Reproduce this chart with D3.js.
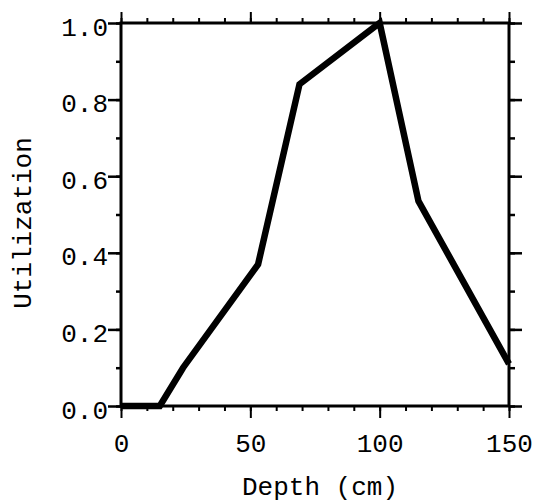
<!DOCTYPE html>
<html><head><meta charset="utf-8">
<script src="https://cdn.jsdelivr.net/npm/d3@7"></script>
<style>body{margin:0;background:#fff}svg{display:block}text{font-family:"Liberation Mono","Courier New",monospace;fill:#000}</style>
</head><body>
<svg id="c" width="535" height="503"></svg>
<script>
const depth = [0, 15, 24, 53, 69, 100, 115, 150];
const utilization = [0, 0, 0.1, 0.37, 0.84, 1.0, 0.535, 0.11];
const xTicks = [0, 50, 100, 150];
const yTicks = [0, 0.2, 0.4, 0.6, 0.8, 1.0];
const xMinor = d3.range(0, 151, 10);
const yMinor = d3.range(0, 1.001, 0.1);

const svg = d3.select("#c");
const L = 121, R = 509, T = 23, B = 406;
const x = d3.scaleLinear().domain([0, 150]).range([L, R]);
const y = d3.scaleLinear().domain([0, 1]).range([B, T]);

function styleAxis(g, w) {
  g.select(".domain").remove();
  g.selectAll("line").attr("stroke", "#000").attr("stroke-width", w);
}
// minor ticks
svg.append("g").attr("transform", `translate(0,${B})`).call(d3.axisBottom(x).tickValues(xMinor).tickSize(5).tickFormat("")).call(g => styleAxis(g, 2));
svg.append("g").attr("transform", `translate(0,${T})`).call(d3.axisTop(x).tickValues(xMinor).tickSize(5).tickFormat("")).call(g => styleAxis(g, 2));
svg.append("g").attr("transform", `translate(${L},0)`).call(d3.axisLeft(y).tickValues(yMinor).tickSize(5).tickFormat("")).call(g => styleAxis(g, 2.5));
svg.append("g").attr("transform", `translate(${R},0)`).call(d3.axisRight(y).tickValues(yMinor).tickSize(6).tickFormat("")).call(g => styleAxis(g, 2.5));
// major ticks
const fx = d3.format(".0f"), fy = d3.format(".1f");
const gb = svg.append("g").attr("transform", `translate(0,${B})`).call(d3.axisBottom(x).tickValues(xTicks).tickSize(12).tickPadding(16).tickFormat(fx));
styleAxis(gb, 2);
gb.selectAll("text").attr("font-size", 26).attr("fill", "#000").attr("font-family", "Liberation Mono");
const gt = svg.append("g").attr("transform", `translate(0,${T})`).call(d3.axisTop(x).tickValues(xTicks).tickSize(11).tickFormat(""));
styleAxis(gt, 2);
const gl = svg.append("g").attr("transform", `translate(${L},0)`).call(d3.axisLeft(y).tickValues(yTicks).tickSize(13).tickPadding(0).tickFormat(fy));
styleAxis(gl, 2.5);
gl.selectAll("text").attr("font-size", 26).attr("fill", "#000").attr("font-family", "Liberation Mono").attr("dy", null).attr("y", 12);
const gr = svg.append("g").attr("transform", `translate(${R},0)`).call(d3.axisRight(y).tickValues(yTicks).tickSize(13).tickFormat(""));
styleAxis(gr, 2.5);

// frame
svg.append("rect").attr("x", L).attr("y", T).attr("width", R - L).attr("height", B - T)
  .attr("fill", "none").attr("stroke", "#000").attr("stroke-width", 3);

// data line
const pts = depth.map((d, i) => [d, utilization[i]]);
svg.append("path").datum(pts)
  .attr("d", d3.line().x(d => x(d[0])).y(d => y(d[1])))
  .attr("fill", "none").attr("stroke", "#000").attr("stroke-width", 6.5).attr("stroke-linejoin", "miter");

// labels
svg.append("text").attr("x", 320).attr("y", 495).attr("text-anchor", "middle").attr("font-size", 26).text("Depth (cm)");
svg.append("text").attr("transform", "translate(31,223) rotate(-90)").attr("text-anchor", "middle").attr("font-size", 26).text("Utilization");
</script>
</body></html>
